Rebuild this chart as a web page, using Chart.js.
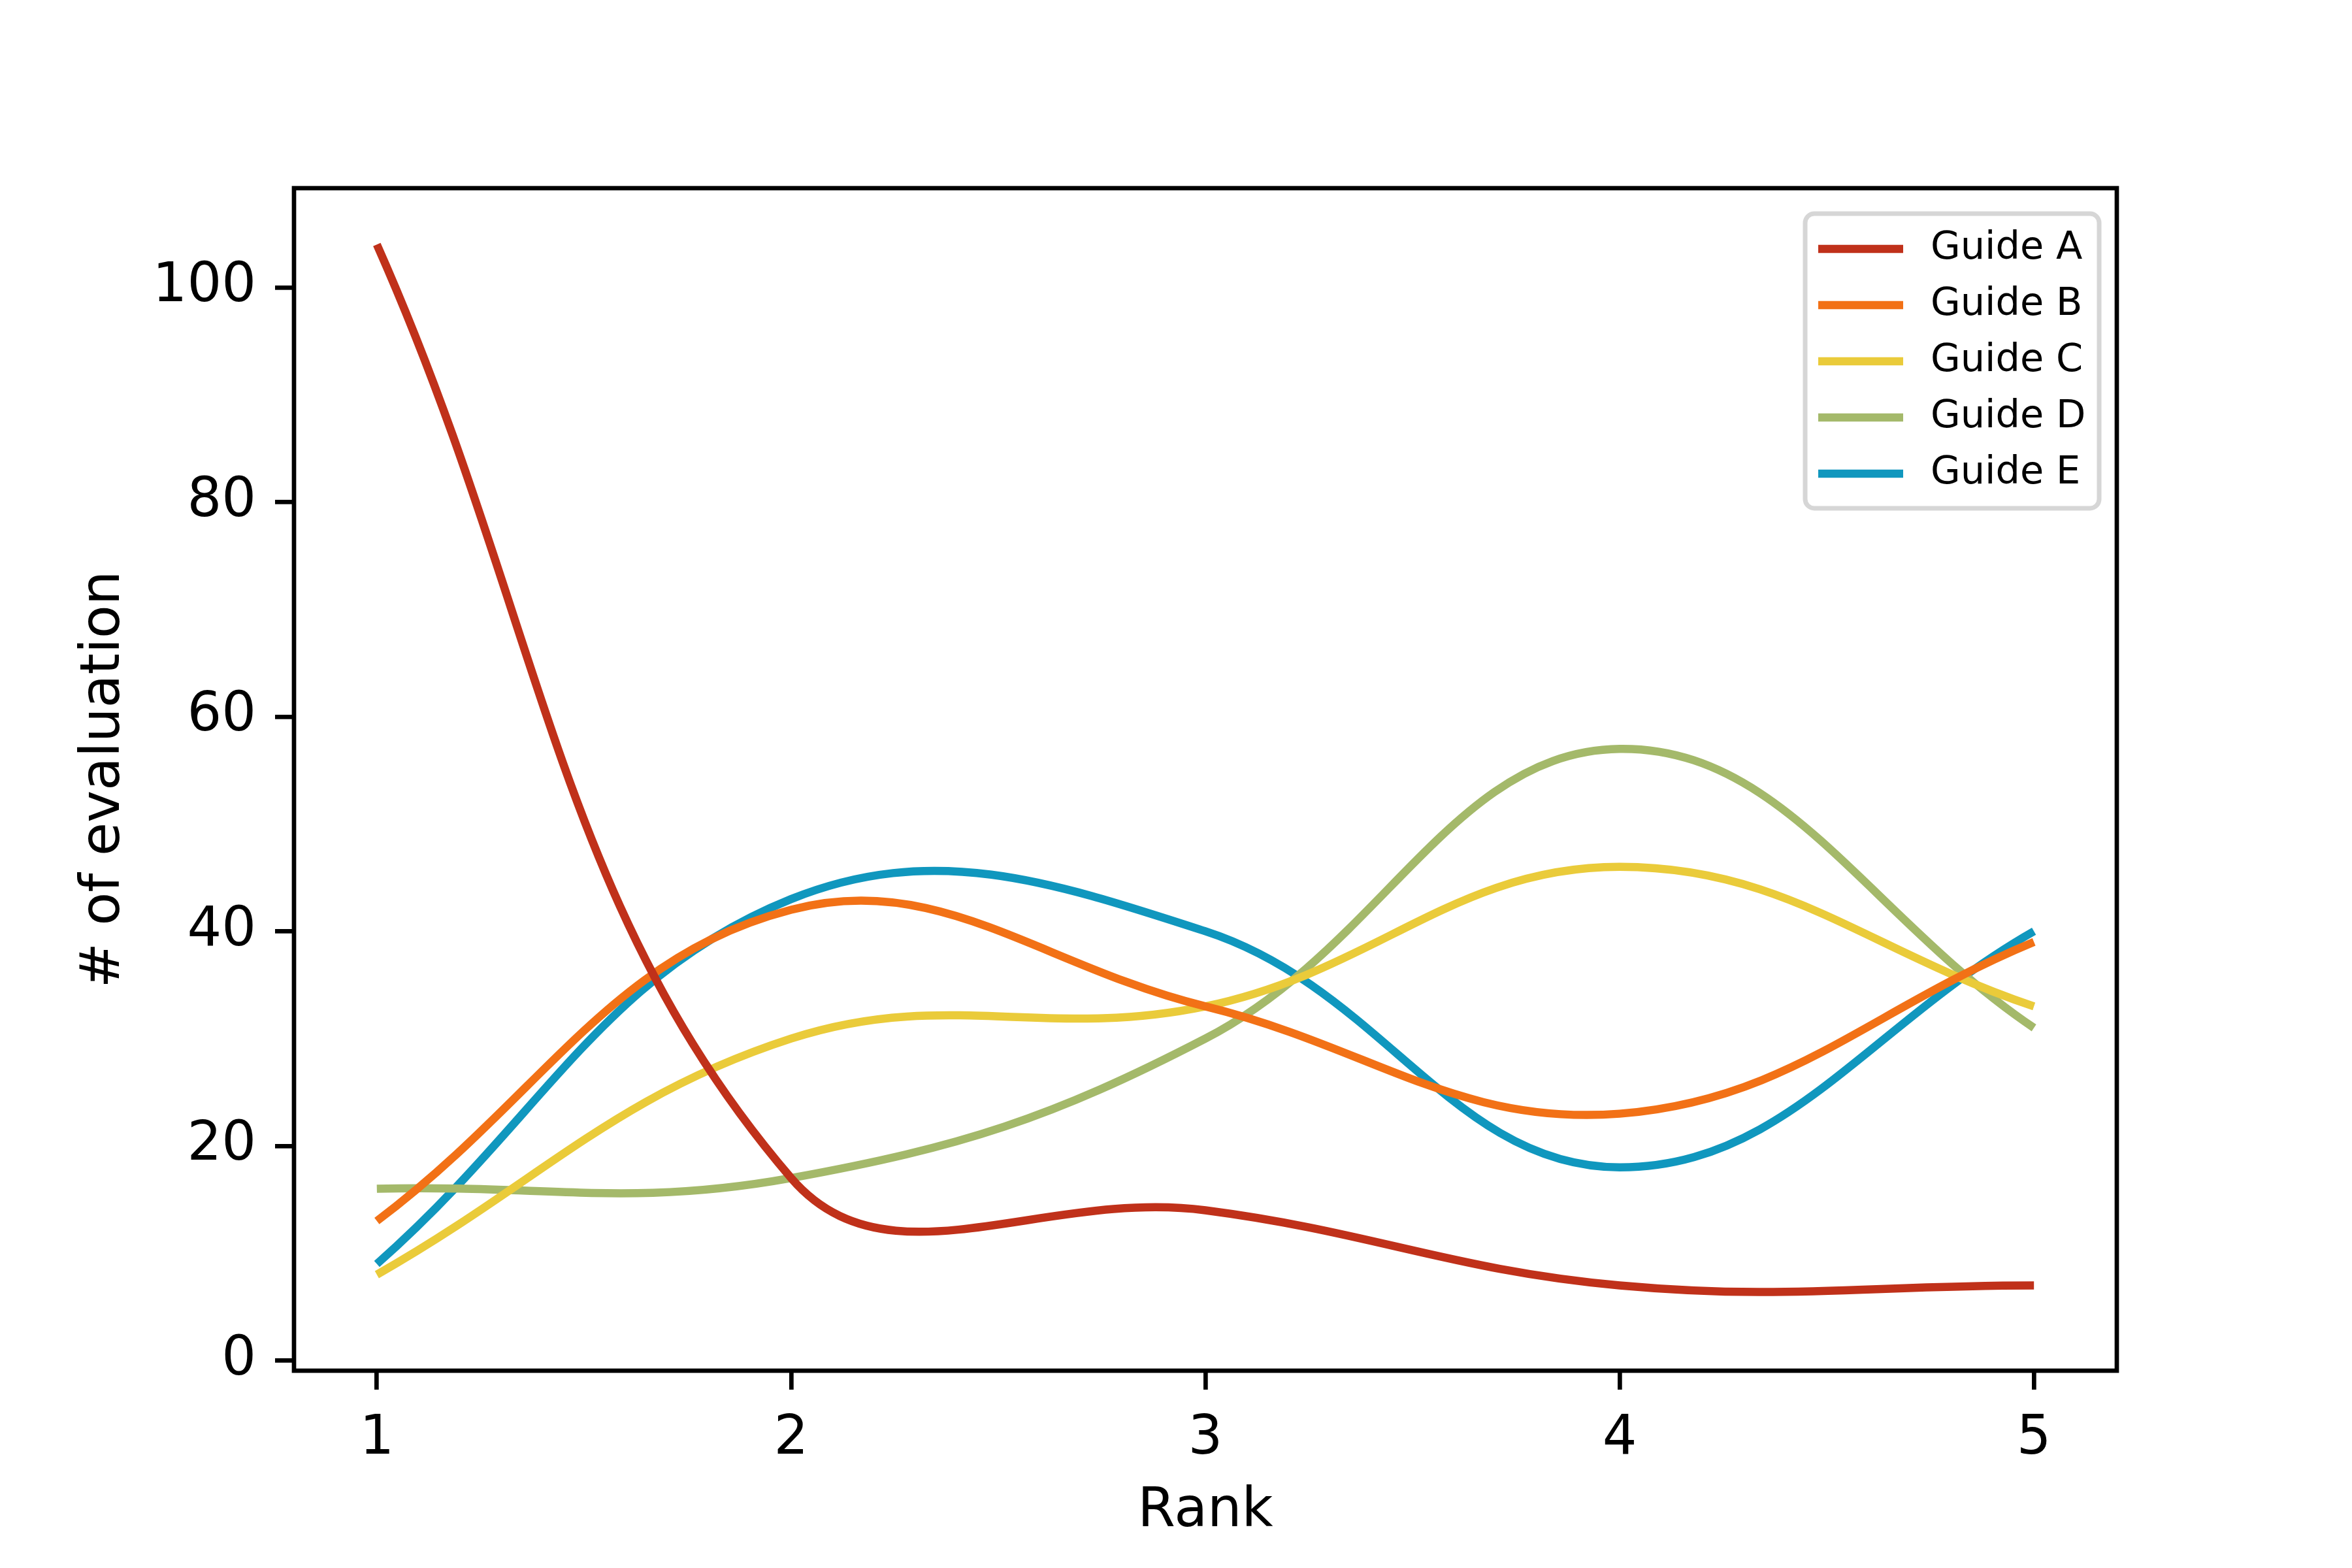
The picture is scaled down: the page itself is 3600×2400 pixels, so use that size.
<!DOCTYPE html>
<html>
<head>
<meta charset="utf-8">
<script src="https://cdn.jsdelivr.net/npm/chart.js@4.4.1/dist/chart.umd.min.js"></script>
<style>
html, body { margin: 0; padding: 0; background: #fff; }
</style>
</head>
<body>
<canvas id="guideChart" width="3600" height="2400"></canvas>
<script>
ranks = [1, 2, 3, 4, 5];
guideNames = ["Guide A", "Guide B", "Guide C", "Guide D", "Guide E"];
guideA = [104, 17, 14, 7, 7];
guideB = [13, 42, 33, 23, 39];
guideC = [8, 30, 33, 46, 33];
guideD = [16, 17, 30, 57, 31];
guideE = [9, 43, 40, 18, 40];
xTicks = [1, 2, 3, 4, 5];
yTicks = [0, 20, 40, 60, 80, 100];
lineColors = ["#c0311a", "#f27116", "#eacb3a", "#a4b96a", "#1097be"];

allSeries = [guideA, guideB, guideC, guideD, guideE];
tickFont = {family: "DejaVu Sans", size: 83};

function toPoints(values){ // pair each value with its rank for the linear x axis
    return values.map((v, i) => ({x: ranks[i], y: v}));
}

// black box round the plot area, like matplotlib spines
const frame = {
    id: "frame",
    afterDatasetsDraw(chart){
        const {ctx, chartArea} = chart;
        ctx.save();
        ctx.strokeStyle = "#000";
        ctx.lineWidth = 6.7;
        ctx.strokeRect(chartArea.left, chartArea.top, chartArea.right - chartArea.left, chartArea.bottom - chartArea.top);
        ctx.restore();
    }
};

// legend box in the upper right corner inside the axes
const innerLegend = {
    id: "innerLegend",
    afterDraw(chart){
        const {ctx, chartArea} = chart;
        const w = 450, h = 451;
        const x = chartArea.right - 27 - w;
        const y = chartArea.top + 39;
        ctx.save();
        ctx.beginPath();
        ctx.roundRect(x, y, w, h, 14);
        ctx.fillStyle = "rgba(255,255,255,0.8)";
        ctx.fill();
        ctx.lineWidth = 7;
        ctx.strokeStyle = "#d6d6d6";
        ctx.stroke();
        ctx.font = "59px 'DejaVu Sans'";
        ctx.textBaseline = "middle";
        ctx.fillStyle = "#000";
        chart.data.datasets.forEach((ds, i) => {
            const rowY = y + 54 + i * 86;
            ctx.beginPath();
            ctx.moveTo(x + 20, rowY);
            ctx.lineTo(x + 150, rowY);
            ctx.strokeStyle = ds.borderColor;
            ctx.lineWidth = 12.5;
            ctx.stroke();
            ctx.fillText(ds.label, x + 192, rowY);
        });
        ctx.restore();
    }
};

function makeDatasets(){
    let sets = [];
    for(let i = 0; i < allSeries.length; i++){
        sets.push({
            label: guideNames[i],
            data: toPoints(allSeries[i]),
            borderColor: lineColors[i],
            backgroundColor: lineColors[i],
            borderWidth: 12.5,
            pointRadius: 0,
            tension: 0.4,
            fill: false
        });
    }
    return sets;
}

new Chart("guideChart", {
    type: "line",
    data: {datasets: makeDatasets()},
    options: {
        responsive: false,
        animation: false,
        events: [],
        layout: {padding: {top: 288, right: 360, left: 0, bottom: 0}},
        plugins: {legend: {display: false}, tooltip: {enabled: false}},
        scales: {
            x: {
                type: "linear",
                min: 0.8,
                max: 5.2,
                afterBuildTicks: s => { s.ticks = xTicks.map(v => ({value: v})); },
                afterFit: s => { s.height = 302; },
                grid: {drawOnChartArea: false, drawTicks: true, tickLength: 29, color: "#000", lineWidth: 6.7},
                border: {display: false},
                ticks: {font: tickFont, color: "#000", padding: 27, maxRotation: 0, autoSkip: false},
                title: {display: true, text: "Rank", font: tickFont, color: "#000", padding: {top: 0, bottom: 36}}
            },
            y: {
                type: "linear",
                min: -0.95,
                max: 109.25,
                afterBuildTicks: s => { s.ticks = yTicks.map(v => ({value: v})); },
                afterFit: s => { s.width = 450; },
                grid: {drawOnChartArea: false, drawTicks: true, tickLength: 29, color: "#000", lineWidth: 6.7},
                border: {display: false},
                ticks: {font: tickFont, color: "#000", padding: 29},
                title: {display: true, text: "# of evaluation", font: tickFont, color: "#000", padding: {top: 111, bottom: 0}}
            }
        }
    },
    plugins: [frame, innerLegend]
});
</script>
</body>
</html>
